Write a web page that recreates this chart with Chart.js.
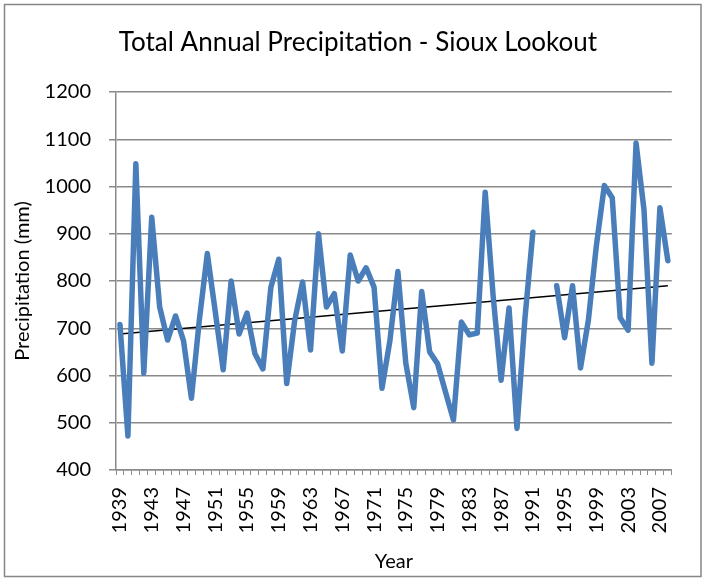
<!DOCTYPE html>
<html>
<head>
<meta charset="utf-8">
<script src="https://cdn.jsdelivr.net/npm/chart.js@4/dist/chart.umd.min.js"></script>
<style>
  html, body { margin: 0; padding: 0; background: #fff; }
  #wrap { width: 704px; height: 581px; }
</style>
</head>
<body>
<div id="wrap"><canvas id="chart" width="704" height="581"></canvas></div>
<script>
// years on the category axis
const years = [
  '1939','1940','1941','1942','1943','1944','1945','1946','1947','1948',
  '1949','1950','1951','1952','1953','1954','1955','1956','1957','1958',
  '1959','1960','1961','1962','1963','1964','1965','1966','1967','1968',
  '1969','1970','1971','1972','1973','1974','1975','1976','1977','1978',
  '1979','1980','1981','1982','1983','1984','1985','1986','1987','1988',
  '1989','1990','1991','1992','1993','1994','1995','1996','1997','1998',
  '1999','2000','2001','2002','2003','2004','2005','2006','2007','2008'
];
// labels actually shown under the axis
const xTickLabels = ['1939','1943','1947','1951','1955','1959','1963','1967','1971',
  '1975','1979','1983','1987','1991','1995','1999','2003','2007'];

// total annual precipitation (mm), 1992-1993 missing
const precip = [
  708, 472, 1048, 605, 935, 745, 675, 726, 674, 552,
  718, 858, 735, 612, 800, 688, 732, 646, 614, 786,
  846, 583, 716, 798, 654, 900, 745, 773, 652, 855,
  800, 828, 787, 573, 674, 820, 626, 532, 778, 650,
  625, 565, 506, 713, 686, 690, 988, 768, 590, 743,
  488, 720, 903, null, null, 790, 680, 790, 616, 718,
  875, 1002, 976, 722, 696, 1092, 950, 626, 955, 843
];

// linear trend line, start and end value
const trendStart = 688;
const trendEnd = 790;
const trend = years.map((y, i) => i === 0 ? trendStart : (i === years.length - 1 ? trendEnd : null));

const yTicks = [400, 500, 600, 700, 800, 900, 1000, 1100, 1200];

const titleText = 'Total Annual Precipitation - Sioux Lookout';
const fontName = 'Lato, "Open Sans", sans-serif';
const gridColor = '#8a8a8a';

// white background, grey frame and the chart title (Excel centres it a bit right of the canvas middle)
const framePlugin = {
  id: 'frame',
  beforeDraw(c) {
    const ctx = c.ctx;
    ctx.save();
    ctx.fillStyle = '#fff';
    ctx.fillRect(0, 0, c.width, c.height);
    ctx.strokeStyle = '#868686';
    ctx.lineWidth = 1.5;
    ctx.strokeRect(4.5, 4.5, 696.5, 572);
    ctx.fillStyle = '#000';
    ctx.font = '26px ' + fontName;
    ctx.textAlign = 'center';
    ctx.textBaseline = 'middle';
    ctx.fillText(titleText, 358, 43);
    ctx.restore();
  }
};

const ctx = document.getElementById('chart').getContext('2d');
const chart = new Chart(ctx, {
  type: 'line',
  data: {
    labels: years,
    datasets: [
      {
        label: 'Precipitation',
        data: precip,
        borderColor: '#4a7ebb',
        borderWidth: 5.5,
        pointRadius: 0,
        borderJoinStyle: 'round',
        borderCapStyle: 'round',
        spanGaps: false,
        tension: 0,
        fill: false
      },
      {
        label: 'Linear trend',
        data: trend,
        borderColor: '#000',
        borderWidth: 1.5,
        pointRadius: 0,
        spanGaps: true,
        fill: false
      }
    ]
  },
  options: {
    responsive: false,
    animation: false,
    devicePixelRatio: 1,
    layout: { padding: { left: 5, right: 23, top: 92, bottom: 0 } },
    plugins: {
      legend: { display: false },
      tooltip: { enabled: false },
      title: { display: false }
    },
    scales: {
      x: {
        type: 'category',
        offset: true,
        grid: {
          offset: true,
          drawOnChartArea: false,
          drawTicks: true,
          tickLength: 5,
          color: gridColor,
          lineWidth: 1
        },
        border: { color: gridColor, width: 1.5 },
        ticks: {
          autoSkip: false,
          maxRotation: 90,
          minRotation: 90,
          padding: 12,
          color: '#000',
          font: { family: fontName, size: 20 },
          callback: function(v) {
            const l = this.getLabelForValue(v);
            return xTickLabels.includes(l) ? l : '';
          }
        },
        title: {
          display: true,
          text: 'Year',
          color: '#000',
          font: { family: fontName, size: 20 },
          padding: { top: 0, bottom: 7 }
        },
        afterFit: (s) => { s.height = 111; }
      },
      y: {
        min: 400,
        max: 1200,
        afterBuildTicks: (s) => { s.ticks = yTicks.map(v => ({ value: v })); },
        grid: {
          color: gridColor,
          lineWidth: 1.5,
          tickLength: 7
        },
        border: { color: gridColor, width: 1.5 },
        ticks: {
          padding: 18,
          color: '#000',
          font: { family: fontName, size: 20 },
          callback: (v) => String(v)
        },
        title: {
          display: true,
          text: 'Precipitation (mm)',
          color: '#000',
          font: { family: fontName, size: 20 },
          padding: { top: 6, bottom: 0 }
        },
        afterFit: (s) => { s.width = 111; }
      }
    }
  },
  plugins: [framePlugin]
});
</script>
</body>
</html>
